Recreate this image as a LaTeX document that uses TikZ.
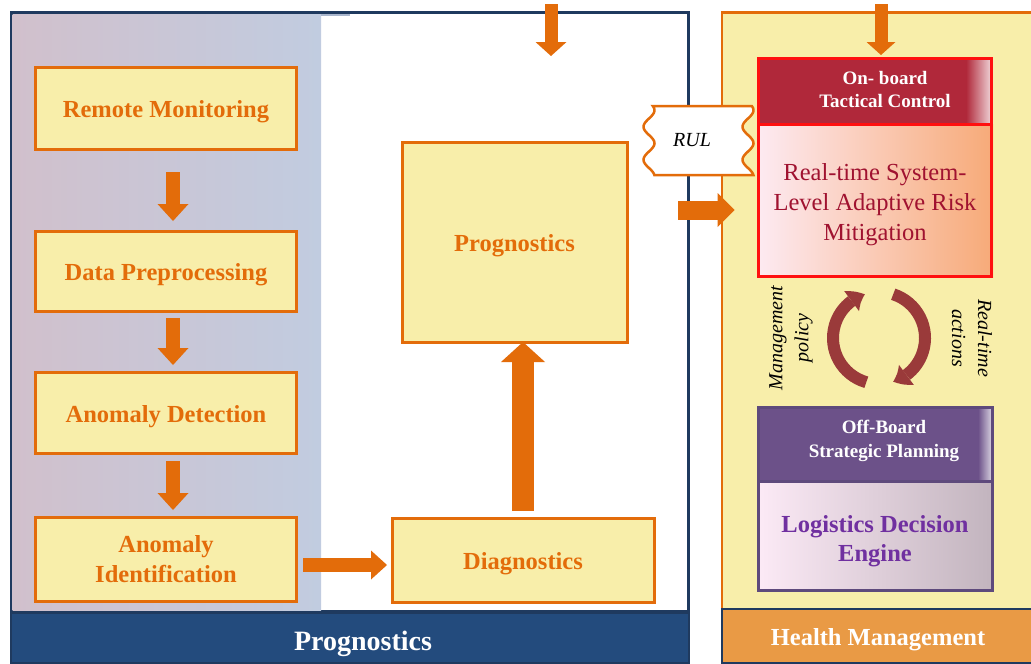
\documentclass[tikz,border=0pt]{standalone}
\usepackage{fontspec}
\setmainfont{Liberation Serif}
\usetikzlibrary{arrows.meta,calc,bending}
\newcommand\setfs[2]{\fontsize{#1}{#2}\selectfont}

\definecolor{navy}{HTML}{1F3A5F}
\definecolor{barblue}{HTML}{234B7D}
\definecolor{tanbar}{HTML}{E99A45}
\definecolor{orng}{HTML}{E36C0A}
\definecolor{pale}{HTML}{F8EEAA}
\definecolor{crim}{HTML}{B0283A}
\definecolor{redline}{HTML}{FF1010}
\definecolor{plum}{HTML}{6C5189}
\definecolor{plumline}{HTML}{5E4A7C}
\definecolor{purp}{HTML}{7030A0}
\definecolor{darkcrim}{HTML}{A01230}
\definecolor{cyc}{HTML}{9A3A3A}
\definecolor{mauve}{HTML}{D1C0CC}
\definecolor{steel}{HTML}{C1CCE0}

\tikzset{
  stepbox/.style={draw=orng, line width=3pt, fill=pale, text=orng,
    font=\bfseries\setfs{24.5}{30}, align=center, inner sep=0pt,
    execute at begin node={\rule{0pt}{25pt}}},
  blkarrow/.style args={#1/#2/#3}{draw=orng, line width=#1pt,
    -{Triangle[width=#2pt,length=#3pt,line width=0pt]}},
  cyclearrow/.style={draw=cyc, line width=12pt,
    -{Triangle[width=25pt,length=15pt,line width=0pt,bend]}},
  headtext/.style={text=white, font=\bfseries\setfs{19}{23}, align=center},
  sidenote/.style={font=\itshape\setfs{20}{26}, align=center},
}

\begin{document}
\begin{tikzpicture}[x=1pt,y=-1pt]
\useasboundingbox (0,0) rectangle (1031,664);
\fill[white] (0,0) rectangle (1031,664);

% ---- Prognostics panel ----
\draw[navy, line width=3pt, fill=white] (11,12.5) rectangle (688.5,611);
\shade[left color=mauve, right color=steel] (12.5,14) rectangle (321,610);
\draw[steel!85!navy, line width=1.5pt] (321,14.8) -- (350,14.8);
\node[draw=navy, line width=2pt, fill=barblue, minimum width=678pt,
      minimum height=50pt, inner sep=0pt] (progbar) at (349.5,637.5) {};
\node[text=white, font=\bfseries\setfs{28}{30}] (progtitle) at (363,644) {Prognostics};

% ---- Health management panel ----
\draw[orng, line width=2.5pt, fill=pale] (722,12.5) rectangle (1045,612);
\draw[navy, line width=2pt, fill=tanbar] (721.5,608.5) rectangle (1045,663);
\node[text=white, font=\bfseries\setfs{24.5}{28}] (hmtitle) at (878,640) {Health Management};

% ---- processing chain ----
\node[stepbox, minimum width=261pt, minimum height=82pt] (rm) at (166,108) {Remote Monitoring};
\node[stepbox, minimum width=261pt, minimum height=80pt] (dp) at (166,271) {Data Preprocessing};
\node[stepbox, minimum width=261pt, minimum height=81pt] (ad) at (166,413) {Anomaly Detection};
\node[stepbox, minimum width=261pt, minimum height=84pt] (ai) at (166,559) {Anomaly\\Identification};
\node[stepbox, minimum width=262pt, minimum height=84pt] (diag) at (523,560) {Diagnostics};
\node[stepbox, minimum width=225pt, minimum height=200pt] (prog) at (514.5,242) {Prognostics};

\draw[blkarrow=14/31/17] ($(rm.south)+(7,21.5)$) -- ($(dp.north)+(7,-8.5)$);
\draw[blkarrow=14/31/17] ($(dp.south)+(7,5.5)$) -- ($(ad.north)+(7,-6)$);
\draw[blkarrow=14/31/17] ($(ad.south)+(7,6)$) -- ($(ai.north)+(7,-5.5)$);
\draw[blkarrow=14/29/16] ($(ai.east)+(5,6)$) -- ($(diag.west)+(-3.5,5)$);
\draw[blkarrow=22/44/20] ($(diag.north)+(0,-5.5)$) -- ($(prog.south)+(8.5,-1.5)$);

\coordinate (feedP) at (551,4);
\coordinate (intoP) at (551,56);
\draw[blkarrow=13/31/14] (feedP) -- (intoP);

% ---- on-board tactical control ----
\fill[crim] (757,58) rectangle (993,124);
\shade[left color=crim, right color=crim!15!white] (966,58) rectangle (993,124);
\shade[left color={rgb,255:red,253;green,234;blue,242}, middle color={rgb,255:red,249;green,192;blue,162},
       right color={rgb,255:red,247;green,170;blue,120}] (757,124) rectangle (993,277);
\draw[redline, line width=3pt] (757,124) -- (993,124);
\node[draw=redline, line width=3pt, minimum width=233pt, minimum height=218pt,
      inner sep=0pt] (onb) at (875,167.5) {};
\node[headtext] (onbhead) at (885,89) {On- board\\Tactical Control};
\node[text=darkcrim, font=\setfs{24.5}{30}, align=center] (rts) at (875,205)
  {Real-time System-\\Level Adaptive Risk\\Mitigation};

\draw[blkarrow=13/29/13] ($(onb.north)+(6,-53)$) -- ($(onb.north)+(6,-2)$);
\coordinate (outP) at (678,210);
\draw[blkarrow=19/34/17] (outP) -- ($(onb.west)+(-22.5,42.5)$);

% ---- remaining useful life tag ----
\draw[orng, line width=2.5pt, fill=white]
  plot[domain=106:175, samples=60, smooth] ({748+5.5*sin((\x-102)*10.909)}, {\x})
  -- plot[domain=175:106, samples=60, smooth] ({649+5.5*sin((\x-102)*10.909)}, {\x})
  -- cycle;
\node[font=\itshape\setfs{20}{22}] (rul) at (692,140) {RUL};

% ---- management cycle ----
\draw[cyclearrow] (879,338) ++(106:46) arc[start angle=106, end angle=252, radius=46];
\draw[cyclearrow] (879,338) ++(-72:46) arc[start angle=-72, end angle=72, radius=46];
\node[sidenote, rotate=90] (mgmt) at (791,338) {Management\\policy};
\node[sidenote, rotate=-90] (rta) at (972,338) {Real-time\\actions};

% ---- off-board strategic planning ----
\fill[plum] (757,407) rectangle (993,481);
\shade[left color=plum, right color=plum!20!white] (978,407) rectangle (993,481);
\shade[left color={rgb,255:red,252;green,234;blue,246}, middle color={rgb,255:red,214;green,200;blue,212},
       right color={rgb,255:red,194;green,180;blue,190}] (757,481) rectangle (993,591);
\draw[plumline, line width=3pt] (757,481) -- (993,481);
\node[draw=plumline, line width=3pt, minimum width=234pt, minimum height=183pt,
      inner sep=0pt] (offb) at (875,499) {};
\node[headtext, font=\bfseries\setfs{19}{24}] (offhead) at (884,441) {Off-Board\\Strategic Planning};
\node[text=purp, font=\bfseries\setfs{24.5}{29}, align=center] (lde) at (875,541)
  {Logistics Decision\\Engine};
\end{tikzpicture}
\end{document}
